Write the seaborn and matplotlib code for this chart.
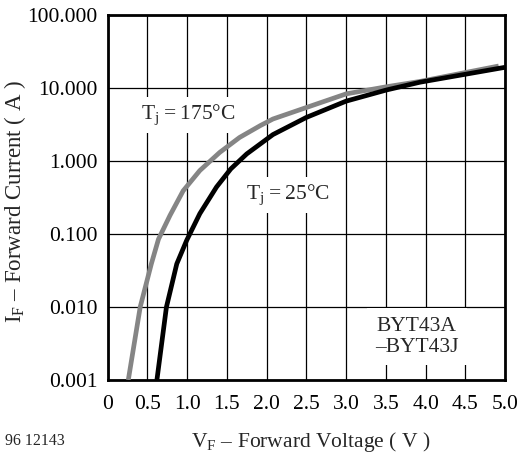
import numpy as np
import pandas as pd
import matplotlib
matplotlib.use("Agg")
import matplotlib.pyplot as plt
import matplotlib.ticker as mticker
import seaborn as sns

# ----------------------------
# Curve data
# ----------------------------

vf_175 = [0.26, 0.41, 0.55, 0.64, 0.785, 0.95, 1.16, 1.41, 1.66, 1.92, 2.08, 2.50, 3.00, 3.51, 3.93, 4.92]
if_175 = [0.001, 0.01, 0.039, 0.085, 0.18, 0.39, 0.74, 1.31, 2.1, 3.05, 3.76, 5.4, 8.3, 10.4, 12.3, 20.0]

vf_25 = [0.62, 0.74, 0.87, 0.995, 1.16, 1.37, 1.55, 1.75, 2.08, 2.50, 3.00, 3.51, 3.93, 5.00]
if_25 = [0.001, 0.01, 0.039, 0.082, 0.19, 0.44, 0.78, 1.25, 2.3, 3.95, 6.6, 9.4, 12.0, 19.2]

x_ticks = [0, 0.5, 1.0, 1.5, 2.0, 2.5, 3.0, 3.5, 4.0, 4.5, 5.0]
x_tick_labels = ["0", "0.5", "1.0", "1.5", "2.0", "2.5", "3.0", "3.5", "4.0", "4.5", "5.0"]
y_ticks = [0.001, 0.01, 0.1, 1, 10, 100]
y_tick_labels = ["0.001", "0.010", "0.100", "1.000", "10.000", "100.000"]

df = pd.concat([
    pd.DataFrame({"vf": vf_175, "i": if_175, "tj": "175"}),
    pd.DataFrame({"vf": vf_25, "i": if_25, "tj": "25"}),
], ignore_index=True)

sns.set_style("white")
plt.rcParams["font.family"] = ["Liberation Serif", "DejaVu Serif"]
plt.rcParams["mathtext.fontset"] = "custom"
plt.rcParams["mathtext.rm"] = "Liberation Serif"
plt.rcParams["mathtext.it"] = "Liberation Serif"

fig = plt.figure(figsize=(5.25, 4.54), dpi=100)
ax = fig.add_axes([0.205, 0.163, 0.757, 0.804])

sns.lineplot(data=df, x="vf", y="i", hue="tj", palette={"175": "#858585", "25": "black"},
             sort=False, estimator=None, linewidth=3.4, legend=False, ax=ax, zorder=4,
             solid_joinstyle="round", solid_capstyle="butt")

ax.set_yscale("log")
ax.set_xlim(0, 5)
ax.set_ylim(0.001, 100)
ax.set_xticks(x_ticks)
ax.set_xticklabels(x_tick_labels)
ax.set_yticks(y_ticks)
ax.set_yticklabels(y_tick_labels)
ax.yaxis.set_minor_locator(mticker.NullLocator())
ax.tick_params(axis="both", length=0, labelsize=15.5, colors="black")
ax.tick_params(axis="x", pad=11)
ax.tick_params(axis="y", pad=7)

ax.grid(True, color="black", linewidth=0.9, zorder=1)
ax.set_axisbelow(True)
for s in ax.spines.values():
    s.set_color("black")
    s.set_linewidth(2.0)

ax.set_xlabel("V$_\\mathrm{F}$ – Forward Voltage ( V )", fontsize=15.5)
ax.set_ylabel("I$_\\mathrm{F}$ – Forward Current ( A )", fontsize=16.5)
ax.xaxis.set_label_coords(0.51, -0.138)
ax.yaxis.set_label_coords(-0.2, 0.49)

eq = "\u2009=\u2009"
box = dict(facecolor="white", edgecolor="none", pad=4)
ax.text(1.01, 4.3, "T$_\\mathrm{j}$" + eq + "175°C", fontsize=15.5, ha="center", va="center", bbox=box, zorder=3)
ax.text(2.27, 0.34, "T$_\\mathrm{j}$" + eq + "25°C", fontsize=15.5, ha="center", va="center", bbox=box, zorder=3)
ax.text(3.89, 0.0039, "BYT43A\n–BYT43J", fontsize=15.5, ha="center", va="center",
        linespacing=1.15, bbox=dict(facecolor="white", edgecolor="none", pad=6), zorder=3)

fig.text(0.01, 0.028, "96 12143", fontsize=11.5, ha="left", va="center")

fig.savefig("out.png", dpi=100)
plt.close()
